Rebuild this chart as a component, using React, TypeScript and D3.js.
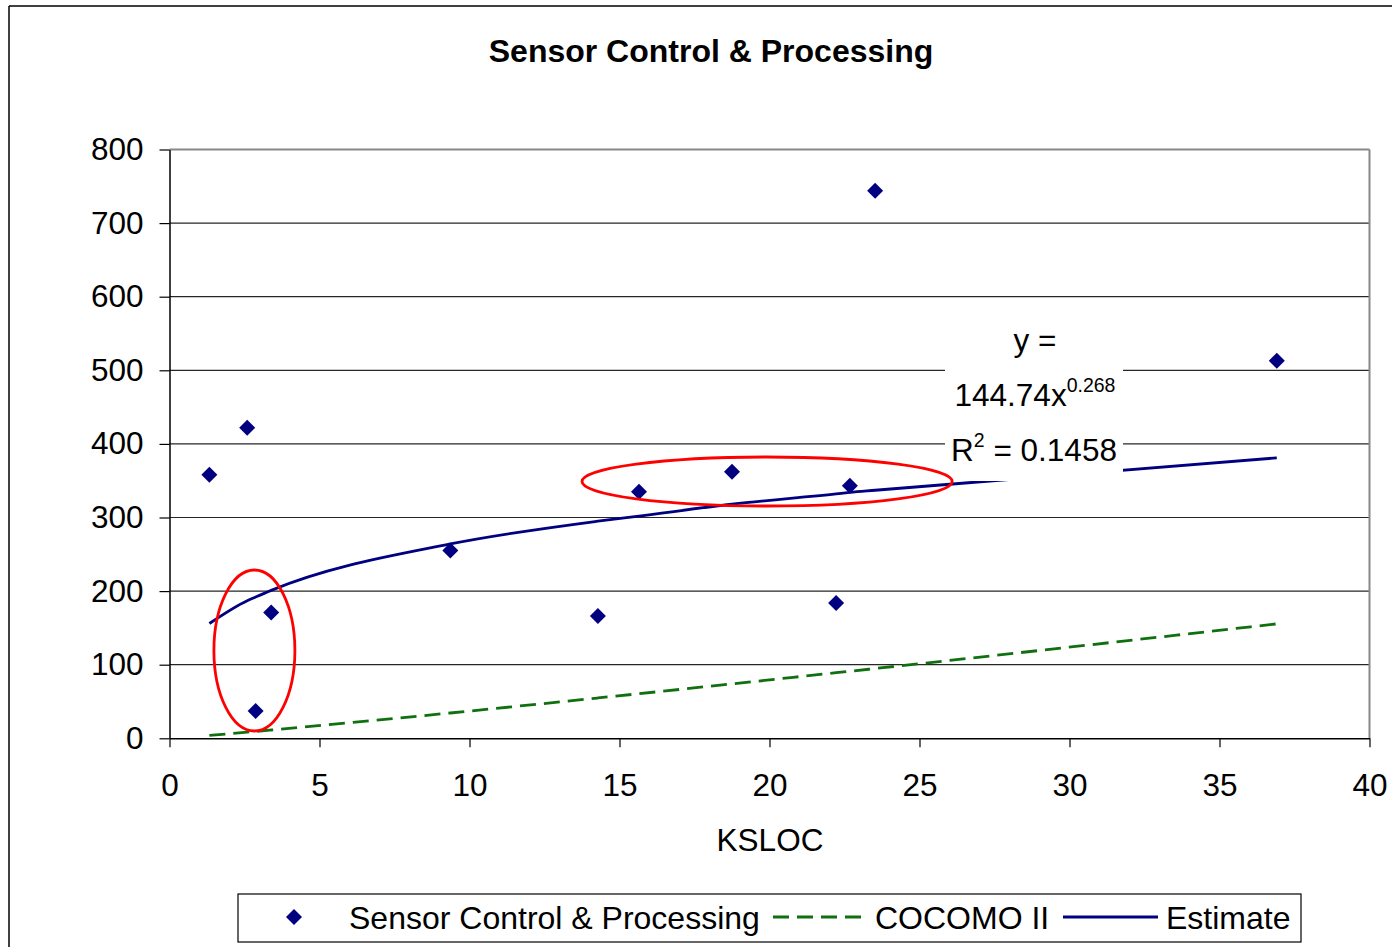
import React, { useEffect, useRef } from 'react';
import * as d3 from 'd3';

// ---- data ----
const kslocValues = [1.33, 2.59, 2.87, 3.39, 9.36, 14.28, 15.65, 18.75, 22.22, 22.68, 23.52, 36.91];
const effortValues = [358, 422, 37, 171, 255, 166, 335, 362, 184, 343, 744, 513];
const cocomoValues = [3.9, 8.4, 9.4, 11.3, 34.4, 54.8, 60.6, 73.9, 89.1, 91.1, 94.8, 155.5];
const estimateValues = [156, 187, 192, 201, 264, 295, 302, 318, 332, 334, 337, 381];

const xTicks = [0, 5, 10, 15, 20, 25, 30, 35, 40];
const yTicks = [0, 100, 200, 300, 400, 500, 600, 700, 800];

const chartTitle = 'Sensor Control & Processing';
const xAxisTitle = 'KSLOC';
const seriesNames = ['Sensor Control & Processing', 'COCOMO II', 'Estimate'];

const trendCoef = '144.74';
const trendExp = '0.268';
const trendR2 = '0.1458';

// highlight ellipses in data units: centre x, centre y, radius x, radius y
const highlightCx = [2.83, 19.92];
const highlightCy = [119.3, 348.9];
const highlightRx = [1.35, 6.17];
const highlightRy = [109.4, 33.3];

// ---- styles ----
const W = 1397;
const H = 947;
const FONT = '"Liberation Sans", Arial, Helvetica, sans-serif';
const NAVY = '#000080';
const GREEN = '#107010';
const RED = '#ff0000';

const x = d3.scaleLinear().domain([0, 40]).range([169.5, 1369.5]);
const y = d3.scaleLinear().domain([0, 800]).range([738.3, 149.5]);

function diamond(cx: number, cy: number, r: number) {
  return `M${cx},${cy - r}L${cx + r},${cy}L${cx},${cy + r}L${cx - r},${cy}Z`;
}

export default function App() {
  const xAxisRef = useRef<SVGGElement>(null);
  const yAxisRef = useRef<SVGGElement>(null);

  useEffect(() => {
    if (xAxisRef.current) {
      const g = d3.select(xAxisRef.current);
      g.selectAll('*').remove();
      g.call(
        d3.axisBottom(x).tickValues(xTicks).tickSize(9).tickSizeOuter(0).tickPadding(26).tickFormat(d3.format('d'))
      );
      g.select('.domain').attr('stroke', '#000').attr('stroke-width', 1.5);
      g.selectAll('.tick line').attr('stroke', '#000').attr('stroke-width', 1.2);
      g.selectAll('.tick text').attr('font-family', FONT).attr('font-size', 31.5).attr('fill', '#000');
    }
    if (yAxisRef.current) {
      const g = d3.select(yAxisRef.current);
      g.selectAll('*').remove();
      g.call(
        d3.axisLeft(y).tickValues(yTicks).tickSize(10).tickSizeOuter(0).tickPadding(16).tickFormat(d3.format('d'))
      );
      g.select('.domain').attr('stroke', '#000').attr('stroke-width', 1.5);
      g.selectAll('.tick line').attr('stroke', '#000').attr('stroke-width', 1.2);
      g.selectAll('.tick text').attr('font-family', FONT).attr('font-size', 31.5).attr('fill', '#000');
    }
  }, []);

  const pts = kslocValues.map((k, i) => ({ k, e: effortValues[i], c: cocomoValues[i], t: estimateValues[i] }));

  const cocomoLine = d3
    .line<{ k: number; c: number }>()
    .x((d) => x(d.k))
    .y((d) => y(d.c))
    .curve(d3.curveMonotoneX);
  const estimateLine = d3
    .line<{ k: number; t: number }>()
    .x((d) => x(d.k))
    .y((d) => y(d.t))
    .curve(d3.curveMonotoneX);

  const [x0, x1] = x.range();
  const [y0, y1] = y.range();

  return (
    <div style={{ position: 'absolute', left: 0, top: 0, width: W, height: H, background: '#fff' }}>
      <svg width={W} height={H} style={{ display: 'block' }}>
        <rect x={0} y={0} width={W} height={H} fill="#fff" />
        {/* outer chart frame */}
        <line x1={9} y1={6} x2={9} y2={H} stroke="#000" strokeWidth={1.5} />
        <line x1={9} y1={6} x2={1392} y2={6} stroke="#000" strokeWidth={1.5} />

        {/* title */}
        <text x={711} y={62} textAnchor="middle" fontFamily={FONT} fontSize={32} fontWeight="bold" fill="#000">
          {chartTitle}
        </text>

        {/* gridlines */}
        {yTicks
          .filter((t) => t > 0 && t < 800)
          .map((t) => (
            <line key={t} x1={x0} x2={x1} y1={y(t)} y2={y(t)} stroke="#262626" strokeWidth={1.2} />
          ))}
        {/* plot border top/right */}
        <line x1={x0} x2={x1} y1={y1} y2={y1} stroke="#888" strokeWidth={2} />
        <line x1={x1} x2={x1} y1={y1} y2={y0} stroke="#888" strokeWidth={2} />

        {/* axes */}
        <g ref={xAxisRef} transform={`translate(0,${y0})`} />
        <g ref={yAxisRef} transform={`translate(${x0},0)`} />

        {/* COCOMO II */}
        <path d={cocomoLine(pts) || ''} fill="none" stroke={GREEN} strokeWidth={2.8} strokeDasharray="16 8" />
        {/* Estimate */}
        <path d={estimateLine(pts) || ''} fill="none" stroke={NAVY} strokeWidth={2.8} />

        {/* data points */}
        {pts.map((p, i) => (
          <path key={i} d={diamond(x(p.k), y(p.e), 8)} fill={NAVY} />
        ))}

        {/* trendline label */}
        <rect x={945} y={316} width={178} height={165} fill="#fff" />
        <text x={1035} y={351} textAnchor="middle" fontFamily={FONT} fontSize={31.5} fill="#000">
          y =
        </text>
        <text x={1035} y={406} textAnchor="middle" fontFamily={FONT} fontSize={31.5} fill="#000">
          <tspan>{trendCoef}x</tspan>
          <tspan fontSize={19.5} dy={-14}>
            {trendExp}
          </tspan>
        </text>
        <text x={1034} y={461} textAnchor="middle" fontFamily={FONT} fontSize={31.5} fill="#000">
          <tspan>R</tspan>
          <tspan fontSize={19.5} dy={-14}>
            2
          </tspan>
          <tspan dy={14}>{` = ${trendR2}`}</tspan>
        </text>

        {/* red highlight ellipses */}
        {highlightCx.map((cx, i) => (
          <ellipse
            key={i}
            cx={x(cx)}
            cy={y(highlightCy[i])}
            rx={x(highlightRx[i]) - x(0)}
            ry={y(0) - y(highlightRy[i])}
            fill="none"
            stroke={RED}
            strokeWidth={2.8}
          />
        ))}

        {/* x axis title */}
        <text x={770} y={851} textAnchor="middle" fontFamily={FONT} fontSize={31.5} fill="#000">
          {xAxisTitle}
        </text>

        {/* legend */}
        <rect x={238} y={894} width={1063} height={48} fill="#fff" stroke="#000" strokeWidth={1.2} />
        <path d={diamond(294, 917, 8)} fill={NAVY} />
        <text x={349} y={929} fontFamily={FONT} fontSize={32} fill="#000">
          {seriesNames[0]}
        </text>
        <line x1={773} x2={868} y1={917} y2={917} stroke={GREEN} strokeWidth={2.8} strokeDasharray="16 8" />
        <text x={875} y={929} fontFamily={FONT} fontSize={32} fill="#000">
          {seriesNames[1]}
        </text>
        <line x1={1063} x2={1158} y1={917} y2={917} stroke={NAVY} strokeWidth={2.8} />
        <text x={1166} y={929} fontFamily={FONT} fontSize={32} fill="#000">
          {seriesNames[2]}
        </text>
      </svg>
    </div>
  );
}
